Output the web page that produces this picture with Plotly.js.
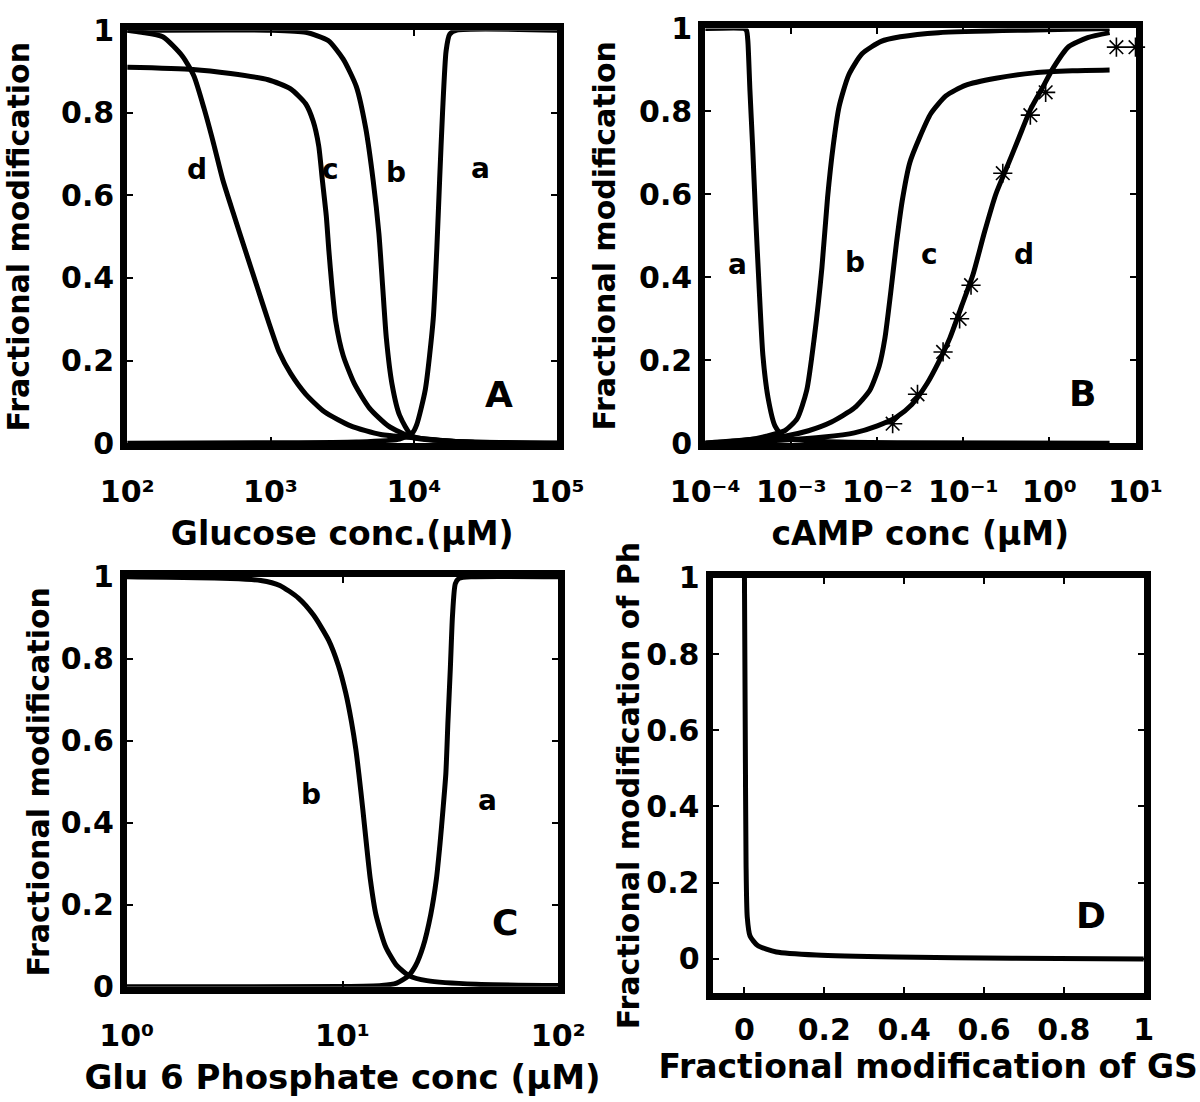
<!DOCTYPE html>
<html>
<head>
<meta charset="utf-8">
<script src="https://cdn.plot.ly/plotly-3.0.1.min.js"></script>
<style>
html,body{margin:0;padding:0;background:#ffffff;}
#chart{width:1200px;height:1102px;}
</style>
</head>
<body>
<div id="chart"></div>
<script>
// ---------- Panel A : Glucose conc. (uM) ----------
const glucoseA_x = [100, 1000, 3981, 7943, 9772, 10471, 12023, 13646, 14454, 15136, 15849, 16788, 17783, 19953, 100000];
const glucoseA_y = [0, 0.001, 0.003, 0.01, 0.025, 0.045, 0.13, 0.30, 0.47, 0.64, 0.80, 0.95, 0.99, 1, 1];
const glucoseB_x = [100, 1000, 1758, 2523, 3214, 3963, 4613, 5200, 5702, 6053, 6427, 7031, 7943, 9795, 19634, 100000];
const glucoseB_y = [1, 1, 0.995, 0.975, 0.93, 0.864, 0.763, 0.636, 0.508, 0.381, 0.254, 0.144, 0.068, 0.017, 0.004, 0];
const glucoseC_x = [100, 288, 526, 962, 1380, 1758, 1982, 2168, 2301, 2449, 2553, 2679, 2844, 3214, 3846, 4898, 6622, 9977, 26546, 100000];
const glucoseC_y = [0.91, 0.905, 0.895, 0.88, 0.858, 0.822, 0.78, 0.72, 0.636, 0.55, 0.466, 0.381, 0.297, 0.212, 0.144, 0.085, 0.042, 0.013, 0.002, 0];
const glucoseD_x = [100, 126, 177, 243, 292, 344, 401, 466, 558, 668, 802, 962, 1151, 1380, 1758, 2377, 3622, 5875, 9977, 19634, 100000];
const glucoseD_y = [1, 0.995, 0.984, 0.937, 0.889, 0.81, 0.725, 0.636, 0.55, 0.466, 0.381, 0.297, 0.22, 0.169, 0.119, 0.076, 0.042, 0.021, 0.013, 0.004, 0];

// ---------- Panel B : cAMP conc (uM) ----------
const campA_x = [0.0001, 0.000282, 0.000302, 0.000313, 0.000331, 0.000355, 0.000385, 0.000422, 0.000468, 0.000537, 0.000646, 0.000839, 0.0024, 0.0186, 5];
const campA_y = [1, 1, 0.995, 0.97, 0.85, 0.72, 0.55, 0.381, 0.212, 0.11, 0.042, 0.013, 0.004, 0.001, 0];
const campB_x = [0.0001, 0.000308, 0.000514, 0.000839, 0.00117, 0.00151, 0.00185, 0.00227, 0.00264, 0.00308, 0.0036, 0.00465, 0.00664, 0.01107, 0.0185, 0.0514, 5];
const campB_y = [0, 0.008, 0.017, 0.03, 0.059, 0.127, 0.254, 0.423, 0.592, 0.719, 0.812, 0.888, 0.939, 0.969, 0.98, 0.99, 1];
const campC_x = [0.0001, 0.000839, 0.001585, 0.00293, 0.00541, 0.00815, 0.01052, 0.01227, 0.01432, 0.01667, 0.01945, 0.02388, 0.03083, 0.0419, 0.0631, 0.1052, 0.2388, 0.6637, 1.849, 5];
const campC_y = [0, 0.017, 0.03, 0.051, 0.085, 0.127, 0.186, 0.254, 0.364, 0.482, 0.584, 0.677, 0.736, 0.795, 0.838, 0.863, 0.88, 0.893, 0.898, 0.9];
const campD_x = [0.0001, 0.000839, 0.00239, 0.00541, 0.01, 0.01667, 0.02512, 0.03784, 0.0514, 0.0698, 0.0951, 0.1291, 0.1754, 0.2388, 0.3243, 0.4406, 0.5998, 0.8147, 1.107, 1.667, 2.78, 5];
const campD_y = [0, 0.008, 0.015, 0.025, 0.042, 0.063, 0.093, 0.144, 0.195, 0.254, 0.33, 0.406, 0.508, 0.601, 0.668, 0.736, 0.804, 0.854, 0.905, 0.956, 0.978, 0.99];
const campStars_x = [0.01507, 0.0293, 0.0581, 0.0904, 0.1227, 0.287, 0.600, 0.904, 6.0, 10.0];
const campStars_y = [0.047, 0.118, 0.22, 0.30, 0.381, 0.651, 0.791, 0.846, 0.955, 0.955];

// ---------- Panel C : Glu 6 Phosphate conc (uM) ----------
const g6pA_x = [1, 10, 15.17, 17.82, 20.14, 21.83, 23.66, 25.64, 27.23, 28.31, 29.24, 30.13, 30.83, 31.62, 32.36, 33.34, 34.67, 39.81, 100];
const g6pA_y = [0, 0.0005, 0.003, 0.009, 0.026, 0.052, 0.099, 0.176, 0.262, 0.348, 0.433, 0.519, 0.648, 0.777, 0.906, 0.983, 0.996, 1, 1];
const g6pB_x = [1, 3.03, 4.18, 5.12, 6.25, 7.35, 8.63, 9.55, 10.35, 10.99, 11.53, 11.91, 12.42, 12.91, 13.46, 14.29, 15.81, 17.82, 20.51, 24.60, 41.59, 100];
const g6pB_y = [1, 0.996, 0.991, 0.979, 0.948, 0.906, 0.845, 0.785, 0.717, 0.648, 0.579, 0.519, 0.433, 0.348, 0.262, 0.176, 0.099, 0.052, 0.026, 0.015, 0.006, 0.003];

// ---------- Panel D : Ph vs GS ----------
const gsFrac = [0.0, 0.002, 0.004, 0.007, 0.014, 0.033, 0.08, 0.18, 0.38, 0.67, 1.0];
const phFrac = [1, 0.6, 0.25, 0.11, 0.06, 0.035, 0.018, 0.01, 0.005, 0.002, 0.0];

// ---------- tick labels ----------
const glucoseTickVals = [100, 1000, 10000, 100000];
const glucoseTickText = ['10²', '10³', '10⁴', '10⁵'];
const campTickVals = [0.0001, 0.001, 0.01, 0.1, 1, 10];
const campTickText = ['10⁻⁴', '10⁻³', '10⁻²', '10⁻¹', '10⁰', '10¹'];
const g6pTickVals = [1, 10, 100];
const g6pTickText = ['10⁰', '10¹', '10²'];
const fracTickVals = [0, 0.2, 0.4, 0.6, 0.8, 1];

const FONT = 'DejaVu Sans, Verdana, sans-serif';
const BLACK = '#000000';
const CURVE_W = 5;

function curve(x, y, xa, ya, name) {
  return {x: x, y: y, xaxis: xa, yaxis: ya, name: name, type: 'scatter', mode: 'lines',
          line: {color: BLACK, width: CURVE_W, shape: 'spline', smoothing: 0.6},
          showlegend: false, hoverinfo: 'x+y'};
}

const data = [
  curve(glucoseA_x, glucoseA_y, 'x', 'y', 'A-a'),
  curve(glucoseB_x, glucoseB_y, 'x', 'y', 'A-b'),
  curve(glucoseC_x, glucoseC_y, 'x', 'y', 'A-c'),
  curve(glucoseD_x, glucoseD_y, 'x', 'y', 'A-d'),
  curve(campA_x, campA_y, 'x2', 'y2', 'B-a'),
  curve(campB_x, campB_y, 'x2', 'y2', 'B-b'),
  curve(campC_x, campC_y, 'x2', 'y2', 'B-c'),
  curve(campD_x, campD_y, 'x2', 'y2', 'B-d'),
  {x: campStars_x, y: campStars_y, xaxis: 'x2', yaxis: 'y2', type: 'scatter', mode: 'markers',
   name: 'experimental', showlegend: false, cliponaxis: false,
   marker: {symbol: 'asterisk-open', size: 16, color: BLACK, line: {color: BLACK, width: 1.6}}},
  curve(g6pA_x, g6pA_y, 'x3', 'y3', 'C-a'),
  curve(g6pB_x, g6pB_y, 'x3', 'y3', 'C-b'),
  curve(gsFrac, phFrac, 'x4', 'y4', 'D')
];

function axis(extra) {
  const base = {
    showline: true, linewidth: 7, linecolor: BLACK, mirror: 'ticks',
    ticks: 'inside', ticklen: 6, tickwidth: 2, tickcolor: BLACK,
    showgrid: false, zeroline: false, automargin: false,
    tickfont: {family: FONT, size: 30, color: BLACK, weight: 'bold'}
  };
  return Object.assign(base, extra);
}
function ttl(text, size, standoff) {
  return {text: text, standoff: standoff, font: {family: FONT, size: size, color: BLACK, weight: 'bold'}};
}

const layout = {
  width: 1200, height: 1102,
  margin: {l: 0, r: 0, t: 0, b: 0},
  paper_bgcolor: '#ffffff', plot_bgcolor: '#ffffff',
  showlegend: false,
  xaxis: axis({domain: [0.106, 0.46433], anchor: 'y', type: 'log', range: [2, 5],
               tickmode: 'array', tickvals: glucoseTickVals, ticktext: glucoseTickText, ticklabelstandoff: 16,
               title: ttl('Glucose conc.(μM)', 33, 16)}),
  yaxis: axis({domain: [0.59782, 0.9726], anchor: 'x', range: [0, 1],
               tickmode: 'array', tickvals: fracTickVals, ticklabelstandoff: 0,
               title: ttl('Fractional modification', 30, 25)}),
  xaxis2: axis({domain: [0.58767, 0.94625], anchor: 'y2', type: 'log', range: [-4, 1],
               tickmode: 'array', tickvals: campTickVals, ticktext: campTickText, ticklabelstandoff: 16,
               title: ttl('cAMP conc (μM)', 33, 16)}),
  yaxis2: axis({domain: [0.59782, 0.97414], anchor: 'x2', range: [0, 1],
               tickmode: 'array', tickvals: fracTickVals, ticklabelstandoff: 0,
               title: ttl('Fractional modification', 30, 17)}),
  xaxis3: axis({domain: [0.10567, 0.46517], anchor: 'y3', type: 'log', range: [0, 2],
               tickmode: 'array', tickvals: g6pTickVals, ticktext: g6pTickText, ticklabelstandoff: 16,
               title: ttl('Glu 6 Phosphate conc (μM)', 34, 16)}),
  yaxis3: axis({domain: [0.10454, 0.47659], anchor: 'x3', range: [0, 1],
               tickmode: 'array', tickvals: fracTickVals, ticklabelstandoff: 0,
               title: ttl('Fractional modification', 30, 5)}),
  xaxis4: axis({domain: [0.59375, 0.95317], anchor: 'y4', range: [-0.08, 1],
               tickmode: 'array', tickvals: fracTickVals, ticklabelstandoff: 4,
               title: ttl('Fractional modification of GS', 33, 10)}),
  yaxis4: axis({domain: [0.09873, 0.47568], anchor: 'x4', range: [-0.09, 1],
               tickmode: 'array', tickvals: fracTickVals, ticklabelstandoff: 0,
               title: ttl('Fractional modification of Ph', 30, 0)}),
  annotations: []
};

function lab(text, xref, yref, x, y, size) {
  return {text: text, xref: xref, yref: yref, x: x, y: y, showarrow: false,
          xanchor: 'center', yanchor: 'middle',
          font: {family: FONT, size: size, color: BLACK, weight: 'bold'}};
}
layout.annotations.push(
  lab('d', 'x', 'y', 2.49, 0.662, 28),
  lab('c', 'x', 'y', 3.42, 0.662, 28),
  lab('b', 'x', 'y', 3.875, 0.655, 28),
  lab('a', 'x', 'y', 4.465, 0.665, 28),
  lab('A', 'x', 'y', 4.597, 0.118, 36),
  lab('a', 'x2', 'y2', -3.62, 0.43, 28),
  lab('b', 'x2', 'y2', -2.26, 0.436, 28),
  lab('c', 'x2', 'y2', -1.395, 0.455, 28),
  lab('d', 'x2', 'y2', -0.3, 0.456, 28),
  lab('B', 'x2', 'y2', 0.383, 0.12, 36),
  lab('b', 'x3', 'y3', 0.852, 0.47, 28),
  lab('a', 'x3', 'y3', 1.671, 0.455, 28),
  lab('C', 'x3', 'y3', 1.755, 0.158, 36),
  lab('D', 'x4', 'y4', 0.868, 0.114, 36)
);

Plotly.newPlot('chart', data, layout, {displayModeBar: false, responsive: false});
</script>
</body>
</html>
